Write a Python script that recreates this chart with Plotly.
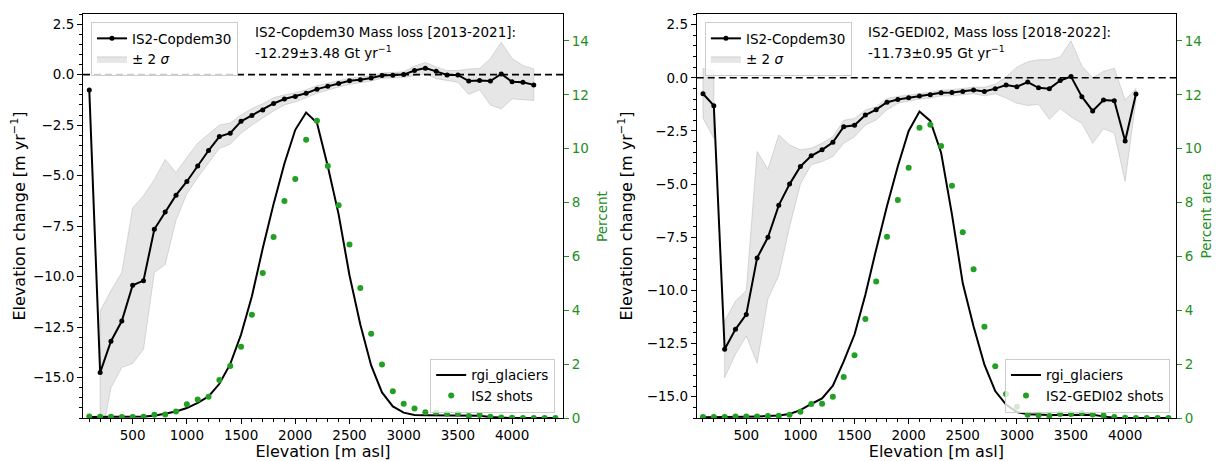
import plotly.graph_objects as go

# elevation bins [m asl]
bins = list(range(100, 4500, 100))

# ---- left panel: IS2-Copdem30 ----
cop_x = list(range(100, 4300, 100))
cop_dh = [-0.76, -14.75, -13.2, -12.2, -10.43, -10.2, -7.66, -6.8, -5.97, -5.29,
          -4.53, -3.76, -3.07, -2.9, -2.31, -2.02, -1.75, -1.43, -1.21, -1.08,
          -0.92, -0.72, -0.58, -0.44, -0.31, -0.25, -0.17, -0.04, -0.03, 0.0,
          0.2, 0.32, 0.16, -0.02, -0.02, -0.32, -0.29, -0.32, 0.03, -0.36,
          -0.38, -0.51]
cop_band_x = list(range(200, 4300, 100))
cop_up = [-11.7, -10.7, -9.8, -6.6, -6.0, -5.2, -4.2, -4.85, -4.1, -3.4,
          -2.95, -2.5, -2.4, -2.0, -1.68, -1.45, -1.15, -1.0, -0.9, -0.75,
          -0.55, -0.42, -0.3, -0.18, -0.12, -0.05, 0.08, 0.1, 0.14, 0.42,
          0.6, 0.38, 0.2, 0.2, 0.28, 0.3, 0.8, 1.6, 0.8, 0.45,
          0.28]
cop_lo = [-18.3, -15.5, -14.5, -14.3, -13.6, -9.8, -9.4, -7.2, -5.9, -5.1,
          -4.35, -3.65, -3.45, -2.9, -2.5, -2.15, -1.8, -1.5, -1.35, -1.15,
          -0.92, -0.78, -0.62, -0.48, -0.4, -0.32, -0.18, -0.17, -0.14, -0.05,
          0.04, -0.2, -0.3, -0.38, -0.98, -0.75, -1.5, -1.7, -1.2, -1.25,
          -1.28]
cop_shots = [0.06, 0.05, 0.05, 0.04, 0.04, 0.05, 0.12, 0.13, 0.24, 0.51,
             0.69, 0.79, 1.41, 1.93, 2.65, 3.83, 5.38, 6.72, 8.06, 8.87,
             10.33, 11.04, 9.36, 7.9, 6.44, 4.83, 3.13, 1.99, 0.99, 0.53,
             0.35, 0.21, 0.2, 0.16, 0.16, 0.07, 0.11, 0.05, 0.02, 0.01,
             0.0, 0.0, 0.0, 0.0]
cop_rgi = [0.04, 0.04, 0.04, 0.04, 0.05, 0.06, 0.08, 0.15, 0.24, 0.37,
           0.56, 0.8, 1.27, 2.0, 3.1, 4.52, 6.3, 7.95, 9.45, 10.7,
           11.34, 10.96, 9.35, 7.56, 5.3, 3.47, 1.95, 0.95, 0.43, 0.2,
           0.11, 0.1, 0.1, 0.1, 0.1, 0.1, 0.08, 0.04, 0.01, 0.0,
           0.0, 0.0, 0.0, 0.0]

# ---- right panel: IS2-GEDI02 ----
gedi_x = list(range(100, 4200, 100))
gedi_dh = [-0.75, -1.31, -12.77, -11.83, -11.13, -8.47, -7.5, -6.0, -5.0, -4.17,
           -3.67, -3.39, -3.03, -2.3, -2.23, -1.75, -1.5, -1.15, -1.02, -0.94,
           -0.86, -0.8, -0.7, -0.69, -0.64, -0.58, -0.64, -0.51, -0.34, -0.42,
           -0.2, -0.47, -0.51, -0.13, 0.06, -0.89, -1.56, -1.05, -1.08, -2.97,
           -0.76]
gedi_band1_x = [100, 200]
gedi_up1 = [0.44, 0.32]
gedi_lo1 = [-1.9, -2.84]
gedi_band2_x = list(range(300, 4200, 100))
gedi_up2 = [-11.44, -10.5, -10.0, -3.47, -4.3, -2.69, -3.16, -3.39, -3.31, -3.08,
            -2.77, -2.0, -1.91, -1.52, -1.36, -0.97, -0.88, -0.8, -0.74, -0.68,
            -0.58, -0.56, -0.5, -0.44, -0.45, -0.3, 0.05, 0.5, 0.75, 0.85,
            0.85, 0.98, 1.74, 0.55, 0.0, 0.3, 0.45, -1.05, -0.5]
gedi_lo2 = [-14.1, -13.0, -12.14, -13.42, -10.4, -9.3, -7.0, -5.0, -4.09, -3.94,
            -3.7, -3.08, -2.77, -2.22, -1.98, -1.5, -1.2, -1.1, -1.0, -0.95,
            -0.85, -0.85, -0.8, -0.75, -0.85, -0.75, -0.95, -1.2, -1.3, -1.25,
            -1.95, -1.45, -1.83, -2.14, -3.08, -2.4, -2.6, -4.87, -1.05]
gedi_shots = [0.04, 0.04, 0.04, 0.06, 0.06, 0.06, 0.07, 0.08, 0.12, 0.23,
              0.52, 0.53, 0.79, 1.52, 2.33, 3.68, 5.07, 6.73, 8.09, 9.29,
              10.78, 10.89, 10.1, 8.62, 6.9, 5.52, 3.39, 1.92, 0.89, 0.42,
              0.12, 0.1, 0.07, 0.15, 0.15, 0.19, 0.13, 0.09, 0.04, 0.01,
              0.0, 0.0, 0.0, 0.0]
gedi_rgi = [0.03, 0.03, 0.03, 0.04, 0.05, 0.06, 0.07, 0.09, 0.15, 0.29,
            0.52, 0.73, 1.2, 2.1, 3.1, 4.58, 6.26, 7.87, 9.35, 10.66,
            11.38, 11.03, 9.85, 7.56, 5.0, 3.4, 1.98, 1.0, 0.5, 0.22,
            0.14, 0.12, 0.11, 0.11, 0.12, 0.13, 0.12, 0.06, 0.01, 0.0,
            0.0, 0.0, 0.0, 0.0]

FONT = "DejaVu Sans"
FS = 13.5
GREEN_TXT = "#1f8f1f"
GREEN_DOT = "#22a022"
BAND_FILL = "rgba(200,200,200,0.45)"
BAND_LINE = "rgba(180,180,180,0.6)"


def polygon(segments):
    # closed shapes for the +/- 2 sigma band, segments separated by None
    px, py = [], []
    for xs, up, lo in segments:
        if px:
            px.append(None)
            py.append(None)
        px += list(xs) + list(xs[::-1]) + [xs[0]]
        py += list(up) + list(lo[::-1]) + [up[0]]
    return px, py


fig = go.Figure()


def add_panel(xa, ya, ya2, top_leg, bot_leg, line_x, dh, band_segs, shots, rgi, shots_name):
    bx, by = polygon(band_segs)
    fig.add_trace(go.Scatter(
        x=bx, y=by, xaxis=xa, yaxis=ya, mode="lines", fill="toself",
        fillcolor=BAND_FILL, line=dict(color=BAND_LINE, width=0.8),
        name="± 2 <i>σ</i>", legend=top_leg, legendrank=2, hoverinfo="skip"))
    fig.add_trace(go.Scatter(
        x=line_x, y=dh, xaxis=xa, yaxis=ya, mode="lines+markers",
        line=dict(color="black", width=2), marker=dict(color="black", size=5),
        name="IS2-Copdem30", legend=top_leg, legendrank=1))
    fig.add_trace(go.Scatter(
        x=bins, y=rgi, xaxis=xa, yaxis=ya2, mode="lines",
        line=dict(color="black", width=2),
        name="rgi_glaciers", legend=bot_leg, legendrank=1))
    fig.add_trace(go.Scatter(
        x=bins, y=shots, xaxis=xa, yaxis=ya2, mode="markers",
        marker=dict(color=GREEN_DOT, size=6),
        name=shots_name, legend=bot_leg, legendrank=2))


add_panel("x", "y", "y2", "legend", "legend3", cop_x, cop_dh,
          [(cop_band_x, cop_up, cop_lo)], cop_shots, cop_rgi, "IS2 shots")
add_panel("x2", "y3", "y4", "legend2", "legend4", gedi_x, gedi_dh,
          [(gedi_band1_x, gedi_up1, gedi_lo1), (gedi_band2_x, gedi_up2, gedi_lo2)],
          gedi_shots, gedi_rgi, "IS2-GEDI02 shots")

xcommon = dict(range=[42, 4470], dtick=500, tick0=0, ticks="outside", ticklen=5,
               showline=True, linecolor="black", linewidth=1, mirror=True,
               showgrid=False, zeroline=False, automargin=False,
               minor=dict(ticks="outside", ticklen=3, dtick=100, tick0=0, showgrid=False),
               title=dict(text="Elevation [m asl]", standoff=4),
               tickfont=dict(size=FS), color="black")
yleft = dict(dtick=2.5, tick0=0, tickformat=".1f", ticks="outside", ticklen=5,
             showline=True, linecolor="black", linewidth=1, showgrid=False,
             zeroline=False, automargin=False,
             minor=dict(ticks="outside", ticklen=3, dtick=0.5, showgrid=False),
             title=dict(text="Elevation change [m yr<sup>−1</sup>]", standoff=10),
             tickfont=dict(size=FS), color="black")
yright = dict(range=[0, 15], dtick=2, tick0=0, ticks="outside", ticklen=5,
              side="right", showline=True, linecolor="black", linewidth=1,
              showgrid=False, zeroline=False, tickcolor=GREEN_TXT, automargin=False,
              tickfont=dict(size=FS, color=GREEN_TXT))

L_DOM = [0, 0.4392]
R_DOM = [0.5615, 1.0]

legend_top = dict(bgcolor="rgba(255,255,255,0.8)", bordercolor="#cccccc", borderwidth=1,
                  font=dict(size=FS, family=FONT), xanchor="left", yanchor="top",
                  y=0.98, tracegroupgap=0, itemwidth=30)
legend_bot = dict(legend_top, xanchor="right", yanchor="bottom", y=0.013)

# the page body adds an 8px offset, so the figure is 8px smaller each way
fig.update_layout(
    width=1213, height=453,
    margin=dict(l=75, r=45, t=6, b=43),
    paper_bgcolor="white", plot_bgcolor="white",
    font=dict(family=FONT, size=FS, color="black"),
    xaxis=dict(xcommon, domain=L_DOM, anchor="y"),
    xaxis2=dict(xcommon, domain=R_DOM, anchor="y3"),
    yaxis=dict(yleft, range=[-17, 3], anchor="x"),
    yaxis2=dict(yright, overlaying="y", anchor="x"),
    yaxis3=dict(yleft, range=[-16, 3], anchor="x2"),
    yaxis4=dict(yright, overlaying="y3", anchor="x2"),
    legend=dict(legend_top, x=0.0073),
    legend2=dict(legend_top, x=0.569),
    legend3=dict(legend_bot, x=0.432),
    legend4=dict(legend_bot, x=0.9945),
    showlegend=True,
)

# right-hand axis titles
for xp, label in ((0.4748, "Percent"), (1.027, "Percent area")):
    fig.add_annotation(xref="paper", yref="paper", x=xp, y=0.5, text=label,
                       textangle=-90, showarrow=False, xanchor="center", yanchor="middle",
                       font=dict(size=FS, color=GREEN_TXT))

# zero reference lines
for xr, yr in (("x domain", "y"), ("x2 domain", "y3")):
    fig.add_shape(type="line", xref=xr, yref=yr, x0=0, x1=1, y0=0, y1=0,
                  line=dict(color="black", width=1.6, dash="7px,4px"), layer="above")

# mass loss text
texts = [
    ("x domain", "y domain", "IS2-Copdem30 Mass loss [2013-2021]:", "-12.29±3.48 Gt yr<sup>−1</sup>"),
    ("x2 domain", "y3 domain", "IS2-GEDI02, Mass loss [2018-2022]:", "-11.73±0.95 Gt yr<sup>−1</sup>"),
]
for xr, yr, l1, l2 in texts:
    fig.add_annotation(xref=xr, yref=yr, x=0.354, y=0.955, text=l1, showarrow=False,
                       xanchor="left", yanchor="middle", font=dict(size=FS))
    fig.add_annotation(xref=xr, yref=yr, x=0.354, y=0.906, text=l2, showarrow=False,
                       xanchor="left", yanchor="middle", font=dict(size=FS))

fig.write_html("out.html")
